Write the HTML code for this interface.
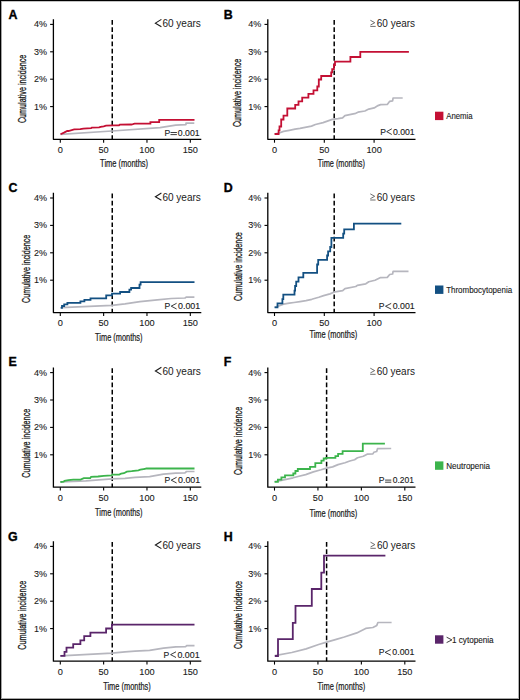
<!DOCTYPE html>
<html><head><meta charset="utf-8"><title>Cumulative incidence</title>
<style>
html,body{margin:0;padding:0;background:#fff;}
body{width:520px;height:700px;overflow:hidden;}
svg{display:block;}
text{font-family:"Liberation Sans",sans-serif;fill:#1a1a1a;}
.ax{fill:none;stroke:#000;stroke-width:1.3;stroke-linejoin:round;}
.tk{fill:none;stroke:#000;stroke-width:1.1;}
.dash{fill:none;stroke:#000;stroke-width:1.5;stroke-dasharray:4.7 2.5;}
.cv{fill:none;stroke-width:1.8;stroke-linejoin:miter;stroke-linecap:butt;}
.cg{fill:none;stroke-width:1.7;stroke-linejoin:round;}
.yt{font-size:9px;text-anchor:end;fill:#1a1a1a;stroke:#1a1a1a;stroke-width:0.1px;}
.xt{font-size:9.2px;text-anchor:middle;fill:#1a1a1a;stroke:#1a1a1a;stroke-width:0.1px;}
.lt{font-size:12.4px;font-weight:bold;fill:#000;stroke:#000;stroke-width:0.35px;}
.yl{font-size:10.3px;text-anchor:middle;stroke:#1a1a1a;stroke-width:0.3px;}
.xl{font-size:10px;stroke:#1a1a1a;stroke-width:0.22px;}
.age{font-size:10.6px;}
.pv{font-size:8.6px;stroke:#1a1a1a;stroke-width:0.12px;}
.sym{fill:none;stroke:#1a1a1a;stroke-width:1.1;stroke-linejoin:miter;}
.sym2{fill:none;stroke:#1a1a1a;stroke-width:0.85;}
.ge{fill:#6a6a6a;}
.gesym{fill:none;stroke:#6e6e6e;stroke-width:1.0;}
.sym3{fill:none;stroke:#333;stroke-width:0.95;}
.lg{font-size:8.6px;stroke:#1a1a1a;stroke-width:0.12px;}
</style></head>
<body><svg width="520" height="700" viewBox="0 0 520 700">
<rect x="0" y="0" width="520" height="700" fill="#fff"/>
<g shape-rendering="crispEdges">
<rect x="1" y="1" width="518" height="1" fill="#c4c4c4"/><rect x="1" y="1" width="1" height="698" fill="#a4a4a4"/>
<rect x="1" y="698" width="518" height="1" fill="#a8a8a8"/><rect x="518" y="1" width="1" height="698" fill="#b0b0b0"/>
<rect x="0" y="0" width="520" height="1" fill="#000"/><rect x="0" y="0" width="1" height="700" fill="#000"/>
<rect x="0" y="699" width="520" height="1" fill="#000"/><rect x="519" y="0" width="1" height="700" fill="#000"/>
</g>
<path d="M53.4,19.2V139.3H201.3" class="ax"/>
<path d="M50.1,24.4H53.4" class="tk"/>
<text x="46.9" y="27.3" class="yt">4%</text>
<path d="M50.1,51.8H53.4" class="tk"/>
<text x="46.9" y="54.7" class="yt">3%</text>
<path d="M50.1,79.2H53.4" class="tk"/>
<text x="46.9" y="82.1" class="yt">2%</text>
<path d="M50.1,106.6H53.4" class="tk"/>
<text x="46.9" y="109.5" class="yt">1%</text>
<path d="M60.3,139.3V142.7" class="tk"/>
<text x="60.3" y="152.8" class="xt">0</text>
<path d="M103.63,139.3V142.7" class="tk"/>
<text x="103.63" y="152.8" class="xt">50</text>
<path d="M146.97,139.3V142.7" class="tk"/>
<text x="146.97" y="152.8" class="xt">100</text>
<path d="M190.31,139.3V142.7" class="tk"/>
<text x="190.31" y="152.8" class="xt">150</text>
<path d="M112.25,20V139.3" class="dash"/>
<text x="8.4" y="18.6" class="lt">A</text>
<text transform="translate(25.6,88.9) rotate(-90)" x="0" y="0" class="yl" textLength="68.4" lengthAdjust="spacingAndGlyphs">Cumulative incidence</text>
<text x="100.1" y="166.8" class="xl" textLength="48" lengthAdjust="spacingAndGlyphs">Time (months)</text>
<path d="M161.4,19.4L155.4,23.15L161.4,26.7" class="sym"/>
<text x="162.4" y="27" class="age" textLength="38.5" lengthAdjust="spacingAndGlyphs">60 years</text>
<text x="164.4" y="135.8" class="pv">P</text>
<path d="M170.5,132.5H176.9M170.5,134.6H176.9" class="sym3"/>
<text x="177.8" y="135.8" class="pv" textLength="21.8" lengthAdjust="spacingAndGlyphs">0.001</text>
<path d="M267.8,19.2V139.3H415.5" class="ax"/>
<path d="M264.5,24.4H267.8" class="tk"/>
<text x="261.3" y="27.3" class="yt">4%</text>
<path d="M264.5,51.8H267.8" class="tk"/>
<text x="261.3" y="54.7" class="yt">3%</text>
<path d="M264.5,79.2H267.8" class="tk"/>
<text x="261.3" y="82.1" class="yt">2%</text>
<path d="M264.5,106.6H267.8" class="tk"/>
<text x="261.3" y="109.5" class="yt">1%</text>
<path d="M274.5,139.3V142.7" class="tk"/>
<text x="274.5" y="152.8" class="xt">0</text>
<path d="M324.3,139.3V142.7" class="tk"/>
<text x="324.3" y="152.8" class="xt">50</text>
<path d="M374.1,139.3V142.7" class="tk"/>
<text x="374.1" y="152.8" class="xt">100</text>
<path d="M334.2,20V139.3" class="dash"/>
<text x="223.8" y="18.6" class="lt">B</text>
<text transform="translate(241.4,92.92) rotate(-90)" x="0" y="0" class="yl" textLength="68.35" lengthAdjust="spacingAndGlyphs">Cumulative incidence</text>
<text x="317.8" y="167.1" class="xl" textLength="47.1" lengthAdjust="spacingAndGlyphs">Time (months)</text>
<path d="M370.4,20.3L374.8,22.7L370.5,25M370.3,26.4H375.7" class="gesym"/>
<text x="376.8" y="27" class="age" textLength="38.3" lengthAdjust="spacingAndGlyphs">60 years</text>
<text x="380.3" y="134.6" class="pv">P</text>
<path d="M391.8,128.8L386.7,131.65L391.8,134.5" class="sym2"/>
<text x="392.9" y="134.6" class="pv" textLength="21.8" lengthAdjust="spacingAndGlyphs">0.001</text>
<path d="M53.4,192.8V312.6H201.3" class="ax"/>
<path d="M50.1,198H53.4" class="tk"/>
<text x="46.9" y="200.9" class="yt">4%</text>
<path d="M50.1,225.4H53.4" class="tk"/>
<text x="46.9" y="228.3" class="yt">3%</text>
<path d="M50.1,252.8H53.4" class="tk"/>
<text x="46.9" y="255.7" class="yt">2%</text>
<path d="M50.1,280.2H53.4" class="tk"/>
<text x="46.9" y="283.1" class="yt">1%</text>
<path d="M60.3,312.6V316" class="tk"/>
<text x="60.3" y="326.1" class="xt">0</text>
<path d="M103.63,312.6V316" class="tk"/>
<text x="103.63" y="326.1" class="xt">50</text>
<path d="M146.97,312.6V316" class="tk"/>
<text x="146.97" y="326.1" class="xt">100</text>
<path d="M190.31,312.6V316" class="tk"/>
<text x="190.31" y="326.1" class="xt">150</text>
<path d="M112.25,193.6V312.6" class="dash"/>
<text x="8.6" y="192.4" class="lt">C</text>
<text transform="translate(29.9,268.9) rotate(-90)" x="0" y="0" class="yl" textLength="68.2" lengthAdjust="spacingAndGlyphs">Cumulative incidence</text>
<text x="95.1" y="340.8" class="xl" textLength="47.4" lengthAdjust="spacingAndGlyphs">Time (months)</text>
<path d="M161.4,193L155.4,196.75L161.4,200.3" class="sym"/>
<text x="162.4" y="200.6" class="age" textLength="38.5" lengthAdjust="spacingAndGlyphs">60 years</text>
<text x="164.5" y="309.1" class="pv">P</text>
<path d="M176.6,303.3L171.2,306.15L176.6,309" class="sym2"/>
<text x="178" y="309.1" class="pv" textLength="22.2" lengthAdjust="spacingAndGlyphs">0.001</text>
<path d="M267.8,192.8V312.6H415.5" class="ax"/>
<path d="M264.5,198H267.8" class="tk"/>
<text x="261.3" y="200.9" class="yt">4%</text>
<path d="M264.5,225.4H267.8" class="tk"/>
<text x="261.3" y="228.3" class="yt">3%</text>
<path d="M264.5,252.8H267.8" class="tk"/>
<text x="261.3" y="255.7" class="yt">2%</text>
<path d="M264.5,280.2H267.8" class="tk"/>
<text x="261.3" y="283.1" class="yt">1%</text>
<path d="M274.5,312.6V316" class="tk"/>
<text x="274.5" y="326.1" class="xt">0</text>
<path d="M324.3,312.6V316" class="tk"/>
<text x="324.3" y="326.1" class="xt">50</text>
<path d="M374.1,312.6V316" class="tk"/>
<text x="374.1" y="326.1" class="xt">100</text>
<path d="M334.2,193.6V312.6" class="dash"/>
<text x="223.8" y="192.4" class="lt">D</text>
<text transform="translate(241.7,266.55) rotate(-90)" x="0" y="0" class="yl" textLength="68.9" lengthAdjust="spacingAndGlyphs">Cumulative incidence</text>
<text x="309.4" y="337.5" class="xl" textLength="47.8" lengthAdjust="spacingAndGlyphs">Time (months)</text>
<path d="M370.3,193.9L374.7,196.3L370.4,198.6M370.2,200H375.6" class="gesym"/>
<text x="376.7" y="200.6" class="age" textLength="38.3" lengthAdjust="spacingAndGlyphs">60 years</text>
<text x="378.8" y="309.2" class="pv">P</text>
<path d="M391.2,303.4L385.5,306.25L391.2,309.1" class="sym2"/>
<text x="392.7" y="309.2" class="pv" textLength="22.1" lengthAdjust="spacingAndGlyphs">0.001</text>
<path d="M53.4,367.4V487.2H201.3" class="ax"/>
<path d="M50.1,372.6H53.4" class="tk"/>
<text x="46.9" y="375.5" class="yt">4%</text>
<path d="M50.1,400H53.4" class="tk"/>
<text x="46.9" y="402.9" class="yt">3%</text>
<path d="M50.1,427.4H53.4" class="tk"/>
<text x="46.9" y="430.3" class="yt">2%</text>
<path d="M50.1,454.8H53.4" class="tk"/>
<text x="46.9" y="457.7" class="yt">1%</text>
<path d="M60.3,487.2V490.6" class="tk"/>
<text x="60.3" y="500.7" class="xt">0</text>
<path d="M103.63,487.2V490.6" class="tk"/>
<text x="103.63" y="500.7" class="xt">50</text>
<path d="M146.97,487.2V490.6" class="tk"/>
<text x="146.97" y="500.7" class="xt">100</text>
<path d="M190.31,487.2V490.6" class="tk"/>
<text x="190.31" y="500.7" class="xt">150</text>
<path d="M112.25,368.2V487.2" class="dash"/>
<text x="8.6" y="365.5" class="lt">E</text>
<text transform="translate(29.9,443.2) rotate(-90)" x="0" y="0" class="yl" textLength="69" lengthAdjust="spacingAndGlyphs">Cumulative incidence</text>
<text x="95.1" y="515.9" class="xl" textLength="47.4" lengthAdjust="spacingAndGlyphs">Time (months)</text>
<path d="M161.4,367.3L155.4,371.05L161.4,374.6" class="sym"/>
<text x="162.4" y="374.9" class="age" textLength="38.5" lengthAdjust="spacingAndGlyphs">60 years</text>
<text x="164.5" y="483.1" class="pv">P</text>
<path d="M176.6,477.3L171.2,480.15L176.6,483" class="sym2"/>
<text x="178" y="483.1" class="pv" textLength="22.2" lengthAdjust="spacingAndGlyphs">0.001</text>
<path d="M267.8,367.4V487.2H415.5" class="ax"/>
<path d="M264.5,372.6H267.8" class="tk"/>
<text x="261.3" y="375.5" class="yt">4%</text>
<path d="M264.5,400H267.8" class="tk"/>
<text x="261.3" y="402.9" class="yt">3%</text>
<path d="M264.5,427.4H267.8" class="tk"/>
<text x="261.3" y="430.3" class="yt">2%</text>
<path d="M264.5,454.8H267.8" class="tk"/>
<text x="261.3" y="457.7" class="yt">1%</text>
<path d="M274.5,487.2V490.6" class="tk"/>
<text x="274.5" y="500.7" class="xt">0</text>
<path d="M317.94,487.2V490.6" class="tk"/>
<text x="317.94" y="500.7" class="xt">50</text>
<path d="M361.37,487.2V490.6" class="tk"/>
<text x="361.37" y="500.7" class="xt">100</text>
<path d="M404.81,487.2V490.6" class="tk"/>
<text x="404.81" y="500.7" class="xt">150</text>
<path d="M326.6,368.2V487.2" class="dash"/>
<text x="223.8" y="365.5" class="lt">F</text>
<text transform="translate(241.5,440.95) rotate(-90)" x="0" y="0" class="yl" textLength="68.3" lengthAdjust="spacingAndGlyphs">Cumulative incidence</text>
<text x="309.4" y="516.5" class="xl" textLength="47.8" lengthAdjust="spacingAndGlyphs">Time (months)</text>
<path d="M370.3,368.2L374.7,370.6L370.4,372.9M370.2,374.3H375.6" class="gesym"/>
<text x="376.7" y="374.9" class="age" textLength="38.3" lengthAdjust="spacingAndGlyphs">60 years</text>
<text x="378.8" y="483.4" class="pv">P</text>
<path d="M385.1,480.1H391.3M385.1,482.2H391.3" class="sym3"/>
<text x="392.7" y="483.4" class="pv" textLength="21.3" lengthAdjust="spacingAndGlyphs">0.201</text>
<path d="M53.4,541.2V661.2H201.3" class="ax"/>
<path d="M50.1,546.4H53.4" class="tk"/>
<text x="46.9" y="549.3" class="yt">4%</text>
<path d="M50.1,573.8H53.4" class="tk"/>
<text x="46.9" y="576.7" class="yt">3%</text>
<path d="M50.1,601.2H53.4" class="tk"/>
<text x="46.9" y="604.1" class="yt">2%</text>
<path d="M50.1,628.6H53.4" class="tk"/>
<text x="46.9" y="631.5" class="yt">1%</text>
<path d="M60.3,661.2V664.6" class="tk"/>
<text x="60.3" y="674.7" class="xt">0</text>
<path d="M103.63,661.2V664.6" class="tk"/>
<text x="103.63" y="674.7" class="xt">50</text>
<path d="M146.97,661.2V664.6" class="tk"/>
<text x="146.97" y="674.7" class="xt">100</text>
<path d="M190.31,661.2V664.6" class="tk"/>
<text x="190.31" y="674.7" class="xt">150</text>
<path d="M112.25,542V661.2" class="dash"/>
<text x="8" y="540.9" class="lt">G</text>
<text transform="translate(25.6,615.2) rotate(-90)" x="0" y="0" class="yl" textLength="69" lengthAdjust="spacingAndGlyphs">Cumulative incidence</text>
<text x="103.2" y="689.5" class="xl" textLength="47.6" lengthAdjust="spacingAndGlyphs">Time (months)</text>
<path d="M161.4,541.3L155.4,545.05L161.4,548.6" class="sym"/>
<text x="162.4" y="548.9" class="age" textLength="38.5" lengthAdjust="spacingAndGlyphs">60 years</text>
<text x="163.5" y="657.6" class="pv">P</text>
<path d="M176,651.8L170.6,654.65L176,657.5" class="sym2"/>
<text x="177.4" y="657.6" class="pv" textLength="22.2" lengthAdjust="spacingAndGlyphs">0.001</text>
<path d="M267.8,541.2V661.2H415.5" class="ax"/>
<path d="M264.5,546.4H267.8" class="tk"/>
<text x="261.3" y="549.3" class="yt">4%</text>
<path d="M264.5,573.8H267.8" class="tk"/>
<text x="261.3" y="576.7" class="yt">3%</text>
<path d="M264.5,601.2H267.8" class="tk"/>
<text x="261.3" y="604.1" class="yt">2%</text>
<path d="M264.5,628.6H267.8" class="tk"/>
<text x="261.3" y="631.5" class="yt">1%</text>
<path d="M274.5,661.2V664.6" class="tk"/>
<text x="274.5" y="674.7" class="xt">0</text>
<path d="M317.94,661.2V664.6" class="tk"/>
<text x="317.94" y="674.7" class="xt">50</text>
<path d="M361.37,661.2V664.6" class="tk"/>
<text x="361.37" y="674.7" class="xt">100</text>
<path d="M404.81,661.2V664.6" class="tk"/>
<text x="404.81" y="674.7" class="xt">150</text>
<path d="M326.6,542V661.2" class="dash"/>
<text x="223.8" y="540.9" class="lt">H</text>
<text transform="translate(241.5,614.95) rotate(-90)" x="0" y="0" class="yl" textLength="67.9" lengthAdjust="spacingAndGlyphs">Cumulative incidence</text>
<text x="317.5" y="690.2" class="xl" textLength="47.8" lengthAdjust="spacingAndGlyphs">Time (months)</text>
<path d="M370.5,542.2L374.9,544.6L370.6,546.9M370.4,548.3H375.8" class="gesym"/>
<text x="376.9" y="548.9" class="age" textLength="38.5" lengthAdjust="spacingAndGlyphs">60 years</text>
<text x="378.8" y="655.3" class="pv">P</text>
<path d="M390.8,649.5L385.1,652.35L390.8,655.2" class="sym2"/>
<text x="392.3" y="655.3" class="pv" textLength="22.1" lengthAdjust="spacingAndGlyphs">0.001</text>
<path d="M60.5,134.3 L112,131 L160,127.6 L175.7,125.1 L186,124.6 L186,123.2 L194.3,123.2" class="cg" stroke="#b6b6be"/>
<path d="M274.6,134 L278.6,133.2 L283.5,131.4 L289.3,130.3 L295.1,129.1 L300,128.4 L311.5,126.1 L315.4,124.5 L323.1,122.6 L332.3,119.4 L338,118.7 L342.6,117.9 L344.9,115.6 L355.7,113.3 L358,112.2 L364.9,111 L368.8,109.1 L374.2,107.9 L378,105.6 L380.6,104.6 L387.3,104.4 L389.7,101.3 L392.6,100.8 L393.1,98 L402.7,98" class="cg" stroke="#b6b6be"/>
<path d="M60.8,307.7 L112,305.3 L125,303.9 L140,301.6 L157.3,299.9 L171.2,298.5 L185,298 L186.2,297.1 L194.4,297.1" class="cg" stroke="#b6b6be"/>
<path d="M274.6,307.3 L277.5,306.4 L283.5,304.1 L289.3,303.1 L294,302.5 L300,301.6 L306,300.7 L311.8,299.3 L318.8,297.3 L323.6,295.6 L330,293.9 L335,291.8 L342.7,290.7 L345,288.6 L355.8,286.5 L357.3,285.3 L365.8,283.8 L368.8,281.8 L375,280.2 L380.6,277.6 L387.3,277.4 L389.7,274.5 L392.6,274 L393.1,271.3 L408.5,271.3" class="cg" stroke="#b6b6be"/>
<path d="M60.4,481.8 L85.8,480.8 L112,478.8 L125,478.3 L135,477.4 L149.6,476.6 L163.5,474.2 L175.8,473.1 L185,472.8 L186.5,471.5 L194.5,471.5" class="cg" stroke="#b6b6be"/>
<path d="M274.6,481.7 L281.5,480.3 L287.3,479.1 L293.1,477.8 L298,476.5 L305.7,474.6 L313.4,471.9 L321.1,469.8 L326.5,468.1 L332.6,466.9 L338,464.6 L345,462.8 L349.8,461 L354.6,459.7 L357.5,457.8 L363.3,456.3 L367.1,454.2 L372.9,453.9 L373.8,452.3 L376.7,451.5 L377.5,448.7 L391.2,448.5" class="cg" stroke="#b6b6be"/>
<path d="M60.4,655.8 L112,653.1 L125,651.8 L135,651.2 L149.6,650.3 L163.5,648.2 L175.8,646.9 L185.8,646.6 L186.5,645.7 L194.5,645.7" class="cg" stroke="#b6b6be"/>
<path d="M274.8,655.7 L291.8,652.5 L306.1,648.9 L318.6,644.5 L326.6,642.1 L335.4,639.6 L344.3,637 L356.8,632.9 L365.7,628.4 L372.9,627.5 L376.8,625.4 L377.9,622.5 L391.6,622.5" class="cg" stroke="#b6b6be"/>
<path d="M60.5,134.3 L64,132.6 L67.2,130.9 L68.4,131 L74.2,129.4 L80.3,129.2 L83.4,128.6 L91.1,128.2 L91.8,127.6 L99.1,127.4 L100.6,126.8 L103.7,126.3 L106,125.6 L113.7,125.4 L119,125.3 L119.8,124.7 L131.4,124.5 L132.9,124.1 L134.6,123.6 L150.4,123.6 L150.4,122.1 L159.2,122.1 L159.2,119.9 L194.5,119.9" class="cv" stroke="#c41034"/>
<path d="M274.6,134H278.6V130.3H279.5V126.5H281.2V119.5H283.5V115.6H287.3V108.5H295.2V104.9H298.5V101.3H302.2V97.7H308.4V93.8H313.5V90.3H317.3V86.5H318.8V79.5H321.2V76H331.2V72.3H332.2V69.2H333.9V65H335V61.6H350.4V57H360.3V51.8H408.9" class="cv" stroke="#c41034"/>
<path d="M60.7,307.8H62V306H64.2V304.4H67.4V302.8H80.4V301.4H84.4V299.8H90.5V298.3H106.2V295.3H112V293.6H120.1V292H129.4V289.6H131.1V288H139.5V284.7H140.6V282.2H194.5" class="cv" stroke="#135082"/>
<path d="M274.6,307.3H277.5V303.3H282.4V299.2H283.3V294.6H294.5V290.6H295.1V286H296.2V281.6H298.5V277.3H303.3V272.8H317.1V264.5H318.2V259.8H327.1V255.5H328.1V251.3H330.2V247H331.4V237.9H343.2V233.6H344.2V229.4H353.9V223.6H401.3" class="cv" stroke="#135082"/>
<path d="M60.4,482 L63.7,481.7 L64.5,480.9 L68.5,480.2 L73.3,479.6 L80.6,479.6 L83.8,478.2 L90.3,478 L91.1,476.8 L98,476.5 L103.8,475.9 L111.5,475.3 L112.4,474.6 L119.2,474.6 L121.1,473.6 L124,473.2 L126.8,471.7 L131.7,471.2 L138.4,470.3 L140.3,469.6 L145.1,469 L146.1,468.5 L194.5,468.5" class="cv" stroke="#3cb44c"/>
<path d="M274.6,481.9H277.9V479.6H281.4V477.4H285V475.4H293.3V473.5H295.4V471H297.8V469H310V466.9H315.3V463.1H321.4V460.7H323.7V458.5H326V457.9H335.4V456.2H338.1V453.8H342.6V451.2H362.8V443.6H384.9" class="cv" stroke="#3cb44c"/>
<path d="M60.4,655.8H64.5V651.8H66.5V647.7H73.2V644.2H80.4V640.3H84.2V636.2H90.4V632.6H106.1V628.5H111.9V624.6H194.5" class="cv" stroke="#5a256a"/>
<path d="M274.8,656H278V639.1H292.8V622.8H295.5V605.9H311.8V589H321.3V572.6H324V555.7H385.4" class="cv" stroke="#5a256a"/>
<rect x="435" y="111.7" width="8.4" height="8.4" fill="#c41034"/>
<text x="446.2" y="119" class="lg" textLength="26.4" lengthAdjust="spacingAndGlyphs">Anemia</text>
<rect x="435" y="285.5" width="8.4" height="8.4" fill="#135082"/>
<text x="446.2" y="292.8" class="lg" textLength="65.9" lengthAdjust="spacingAndGlyphs">Thrombocytopenia</text>
<rect x="435" y="461.4" width="8.4" height="8.4" fill="#3cb44c"/>
<text x="446.2" y="468.7" class="lg" textLength="43.9" lengthAdjust="spacingAndGlyphs">Neutropenia</text>
<rect x="435" y="635.3" width="8.4" height="8.4" fill="#5a256a"/>
<path d="M446.6,637.2L451.9,639.9L446.6,642.6" class="sym2"/>
<text x="452.0" y="642.6" class="lg" textLength="41.6" lengthAdjust="spacingAndGlyphs">1 cytopenia</text>
</svg></body></html>
